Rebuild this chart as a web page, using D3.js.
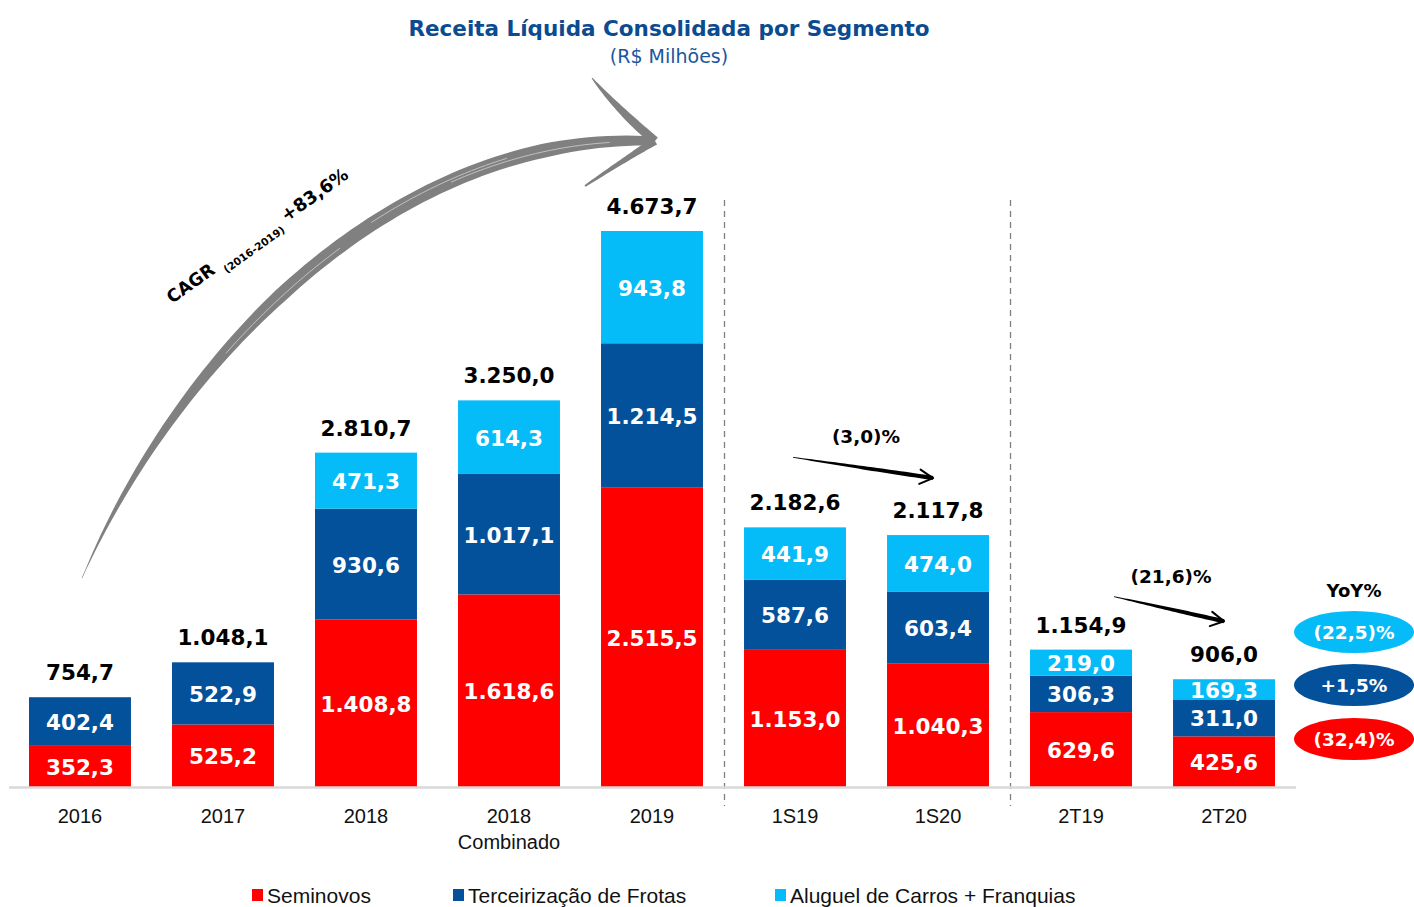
<!DOCTYPE html>
<html>
<head>
<meta charset="utf-8">
<script src="https://cdn.jsdelivr.net/npm/d3@7"></script>
<style>
body{margin:0;background:#fff;}
svg{display:block;}
</style>
</head>
<body>
<script>
// dados (R$ milhões)
var categorias = ["2016","2017","2018","2018 Combinado","2019","1S19","1S20","2T19","2T20"];
var seminovos = [352.3,525.2,1408.8,1618.6,2515.5,1153.0,1040.3,629.6,425.6];
var terceirizacao = [402.4,522.9,930.6,1017.1,1214.5,587.6,603.4,306.3,311.0];
var aluguel = [0,0,471.3,614.3,943.8,441.9,474.0,219.0,169.3];
var totais = [754.7,1048.1,2810.7,3250.0,4673.7,2182.6,2117.8,1154.9,906.0];
var nomesSeries = ["Seminovos","Terceirização de Frotas","Aluguel de Carros + Franquias"];
var yoy = ["(22,5)%","+1,5%","(32,4)%"]; // aluguel, terceirizacao, seminovos
var variacoes = [["1S19","1S20","(3,0)%"],["2T19","2T20","(21,6)%"]];
var cagr = ["CAGR","(2016-2019)","+83,6%"];

var cores = ["#fe0000","#04519b","#05bcf8"];
var fonteNum = "'DejaVu Sans', Verdana, sans-serif";
var fonteTxt = "'Liberation Sans', Arial, sans-serif";

var width = 1414, height = 907;
var ptBR = d3.formatLocale({decimal:",", thousands:".", grouping:[3], currency:["R$ ",""]});
var fmt = ptBR.format(",.1f");

var svg = d3.select("body").append("svg").attr("width",width).attr("height",height);

var x = d3.scaleBand().domain(categorias).range([8.5,1295.5]).paddingInner(0.287).paddingOuter(0.1434);
var y = d3.scaleLinear().domain([0,d3.max(totais)]).range([787,231]);
function xc(c){return x(c)+x.bandwidth()/2;}

// tabela para empilhar
var tabela = categorias.map(function(c,i){
  return {cat:c, sem:seminovos[i], ter:terceirizacao[i], alu:aluguel[i], total:totais[i]};
});
var chaves = ["sem","ter","alu"];
var pilha = d3.stack().keys(chaves)(tabela);

// titulo
svg.append("text").attr("x",669).attr("y",36).attr("text-anchor","middle")
  .attr("font-family",fonteNum).attr("font-weight","bold").attr("font-size",21.5)
  .attr("fill","#0b4b90").text("Receita Líquida Consolidada por Segmento");
svg.append("text").attr("x",669).attr("y",63).attr("text-anchor","middle")
  .attr("font-family",fonteNum).attr("font-size",19)
  .attr("fill","#1a56a0").text("(R$ Milhões)");

// linhas tracejadas separando periodos
var divisoes = [["2019","1S19"],["1S20","2T19"]];
svg.selectAll("line.div").data(divisoes).enter().append("line")
  .attr("x1",function(d){return (x(d[0])+x.bandwidth()+x(d[1]))/2+1;})
  .attr("x2",function(d){return (x(d[0])+x.bandwidth()+x(d[1]))/2+1;})
  .attr("y1",200).attr("y2",806)
  .attr("stroke","#7f7f7f").attr("stroke-width",1.3).attr("stroke-dasharray","6,5");

// barras
var camadas = svg.selectAll("g.camada").data(pilha).enter().append("g")
  .attr("fill",function(d,i){return cores[i];});
camadas.selectAll("rect").data(function(d){return d.filter(function(s){return s[1]-s[0]>0;});})
  .enter().append("rect")
  .attr("x",function(d){return x(d.data.cat);})
  .attr("y",function(d){return y(d[1]);})
  .attr("width",x.bandwidth())
  .attr("height",function(d){return y(d[0])-y(d[1]);});

// rotulos dos segmentos
camadas.selectAll("text").data(function(d){return d.filter(function(s){return s[1]-s[0]>0;});})
  .enter().append("text")
  .attr("x",function(d){return xc(d.data.cat);})
  .attr("y",function(d){return (y(d[0])+y(d[1]))/2;})
  .attr("dy","0.4em").attr("text-anchor","middle")
  .attr("font-family",fonteNum).attr("font-weight","bold").attr("font-size",21.5)
  .attr("fill","#fff")
  .text(function(d){return fmt(d[1]-d[0]);});

// totais
svg.selectAll("text.total").data(tabela).enter().append("text")
  .attr("x",function(d){return xc(d.cat);})
  .attr("y",function(d){return y(d.total)-17;})
  .attr("text-anchor","middle")
  .attr("font-family",fonteNum).attr("font-weight","bold").attr("font-size",21.5)
  .attr("fill","#000").text(function(d){return fmt(d.total);});

// eixo x
var eixo = svg.append("g").attr("transform","translate(0,787)")
  .call(d3.axisBottom(x).tickSize(0).tickPadding(0));
eixo.attr("font-family",fonteTxt).attr("font-size",20);
eixo.select(".domain").attr("stroke","#d9d9d9").attr("stroke-width",2.5);
eixo.selectAll(".tick text").each(function(d){
  var t = d3.select(this);
  t.text(null).attr("dy",null).attr("y",36).attr("fill","#111");
  d.split(" ").forEach(function(p,i){
    t.append("tspan").attr("x",0).attr("dy",i?26:0).text(p);
  });
});

// legenda
var legX = [252,453,775];
var leg = svg.selectAll("g.leg").data(nomesSeries).enter().append("g")
  .attr("transform",function(d,i){return "translate("+legX[i]+",889)";});
leg.append("rect").attr("width",11).attr("height",12).attr("fill",function(d,i){return cores[i];});
leg.append("text").attr("x",15).attr("y",14).attr("font-family",fonteTxt).attr("font-size",21)
  .attr("fill","#111").text(function(d){return d;});

// tracos afinados (setas desenhadas)
function tracoAfinado(p0,p1,p2,p3,largura,n){
  var esq=[],dir=[];
  for(var i=0;i<=n;i++){
    var t=i/n,u=1-t;
    var px=u*u*u*p0[0]+3*u*u*t*p1[0]+3*u*t*t*p2[0]+t*t*t*p3[0];
    var py=u*u*u*p0[1]+3*u*u*t*p1[1]+3*u*t*t*p2[1]+t*t*t*p3[1];
    var dx=3*u*u*(p1[0]-p0[0])+6*u*t*(p2[0]-p1[0])+3*t*t*(p3[0]-p2[0]);
    var dy=3*u*u*(p1[1]-p0[1])+6*u*t*(p2[1]-p1[1])+3*t*t*(p3[1]-p2[1]);
    var len=Math.hypot(dx,dy)||1,nx=-dy/len,ny=dx/len,w=largura(t)/2;
    esq.push([px+nx*w,py+ny*w]); dir.push([px-nx*w,py-ny*w]);
  }
  return d3.line()(esq.concat(dir.reverse()))+"Z";
}
function desloca(p,d){return [p[0]+d[0],p[1]+d[1]];}

// seta CAGR
var ini = [xc("2016")+2, y(totais[0])-119];
var fim = [xc("2019")+3, y(totais[4])-90];
var c1 = [ini[0]+98, ini[1]-228], c2 = [fim[0]-255, fim[1]-11];
var setaG = svg.append("g").attr("fill","#808080");
setaG.append("path").attr("d",tracoAfinado(ini,c1,c2,fim,function(t){
  var w = 14*Math.pow(Math.min(1,t/0.45),0.85);
  if(t>0.85) w *= 1-0.35*(t-0.85)/0.15;
  return Math.max(w,0.6);
},80));
// farpas
var fa = desloca(fim,[-63,-63]);
setaG.append("path").attr("d",tracoAfinado(fa,desloca(fa,[16,20]),desloca(fim,[-22,-18]),fim,function(t){return 1+8*Math.sin(Math.PI*Math.min(t,0.9)/1.8);},30));
var fb = desloca(fim,[-70,45]);
setaG.append("path").attr("d",tracoAfinado(fim,desloca(fim,[-20,12]),desloca(fb,[24,-16]),fb,function(t){return 8-6*t;},30));
// riscos claros do pincel
var riscos = [[0.35,0.55,2],[0.6,0.8,-2],[0.72,0.95,1]];
riscos.forEach(function(r){
  var pts=d3.range(r[0],r[1],0.01).map(function(t){
    var u=1-t;
    var px=u*u*u*ini[0]+3*u*u*t*c1[0]+3*u*t*t*c2[0]+t*t*t*fim[0];
    var py=u*u*u*ini[1]+3*u*u*t*c1[1]+3*u*t*t*c2[1]+t*t*t*fim[1];
    return [px,py+r[2]];
  });
  svg.append("path").attr("d",d3.line()(pts)).attr("fill","none")
    .attr("stroke","#d0d0d0").attr("stroke-width",0.8);
});

// texto CAGR
var cg = svg.append("text").attr("transform","translate(172,304) rotate(-35.5)")
  .attr("font-family",fonteNum).attr("font-weight","bold").attr("fill","#000");
cg.append("tspan").attr("font-size",17.5).text(cagr[0]);
cg.append("tspan").attr("font-size",10.5).attr("dx",8).attr("dy",7).text(cagr[1]);
cg.append("tspan").attr("font-size",18).attr("dx",6).attr("dy",-7).text(cagr[2]);

// setas de variacao
var ajustes = [[[-2,-70],[-5,-57],3],[[33,-53],[0,-58],2]];
variacoes.forEach(function(v,k){
  var i0 = categorias.indexOf(v[0]), i1 = categorias.indexOf(v[1]);
  var a = desloca([xc(v[0]),y(totais[i0])],ajustes[k][0]);
  var b = desloca([xc(v[1]),y(totais[i1])],ajustes[k][1]);
  var g = svg.append("g").attr("fill","#000");
  var m1 = [a[0]+(b[0]-a[0])/3,a[1]+(b[1]-a[1])/3], m2=[a[0]+2*(b[0]-a[0])/3,a[1]+2*(b[1]-a[1])/3];
  g.append("path").attr("d",tracoAfinado(a,m1,m2,b,function(t){return 0.8+3.4*Math.sin(Math.PI*t*0.55);},30));
  var ang = Math.atan2(b[1]-a[1],b[0]-a[0]);
  [-0.55,0.45].forEach(function(s){
    var p=[b[0]-15*Math.cos(ang+s),b[1]-15*Math.sin(ang+s)];
    g.append("path").attr("d",d3.line()([p,b])).attr("stroke","#000").attr("stroke-width",2)
      .attr("stroke-linecap","round").attr("fill","none");
  });
  svg.append("text").attr("x",(a[0]+b[0])/2+ajustes[k][2]).attr("y",a[1]-14)
    .attr("text-anchor","middle")
    .attr("font-family",fonteNum).attr("font-weight","bold").attr("font-size",18.5)
    .attr("fill","#000").text(v[2]);
});

// bloco YoY
var yx = xc("2T20")+130;
svg.append("text").attr("x",yx).attr("y",597).attr("text-anchor","middle")
  .attr("font-family",fonteNum).attr("font-weight","bold").attr("font-size",18)
  .attr("fill","#000").text("YoY%");
var corYoy = [cores[2],cores[1],cores[0]];
var yoyY = [632,685,739];
yoy.forEach(function(t,i){
  svg.append("ellipse").attr("cx",yx).attr("cy",yoyY[i]).attr("rx",60).attr("ry",21).attr("fill",corYoy[i]);
  svg.append("text").attr("x",yx).attr("y",yoyY[i]).attr("dy","0.36em").attr("text-anchor","middle")
    .attr("font-family",fonteNum).attr("font-weight","bold").attr("font-size",18.5)
    .attr("fill","#fff").text(t);
});
</script>
</body>
</html>
